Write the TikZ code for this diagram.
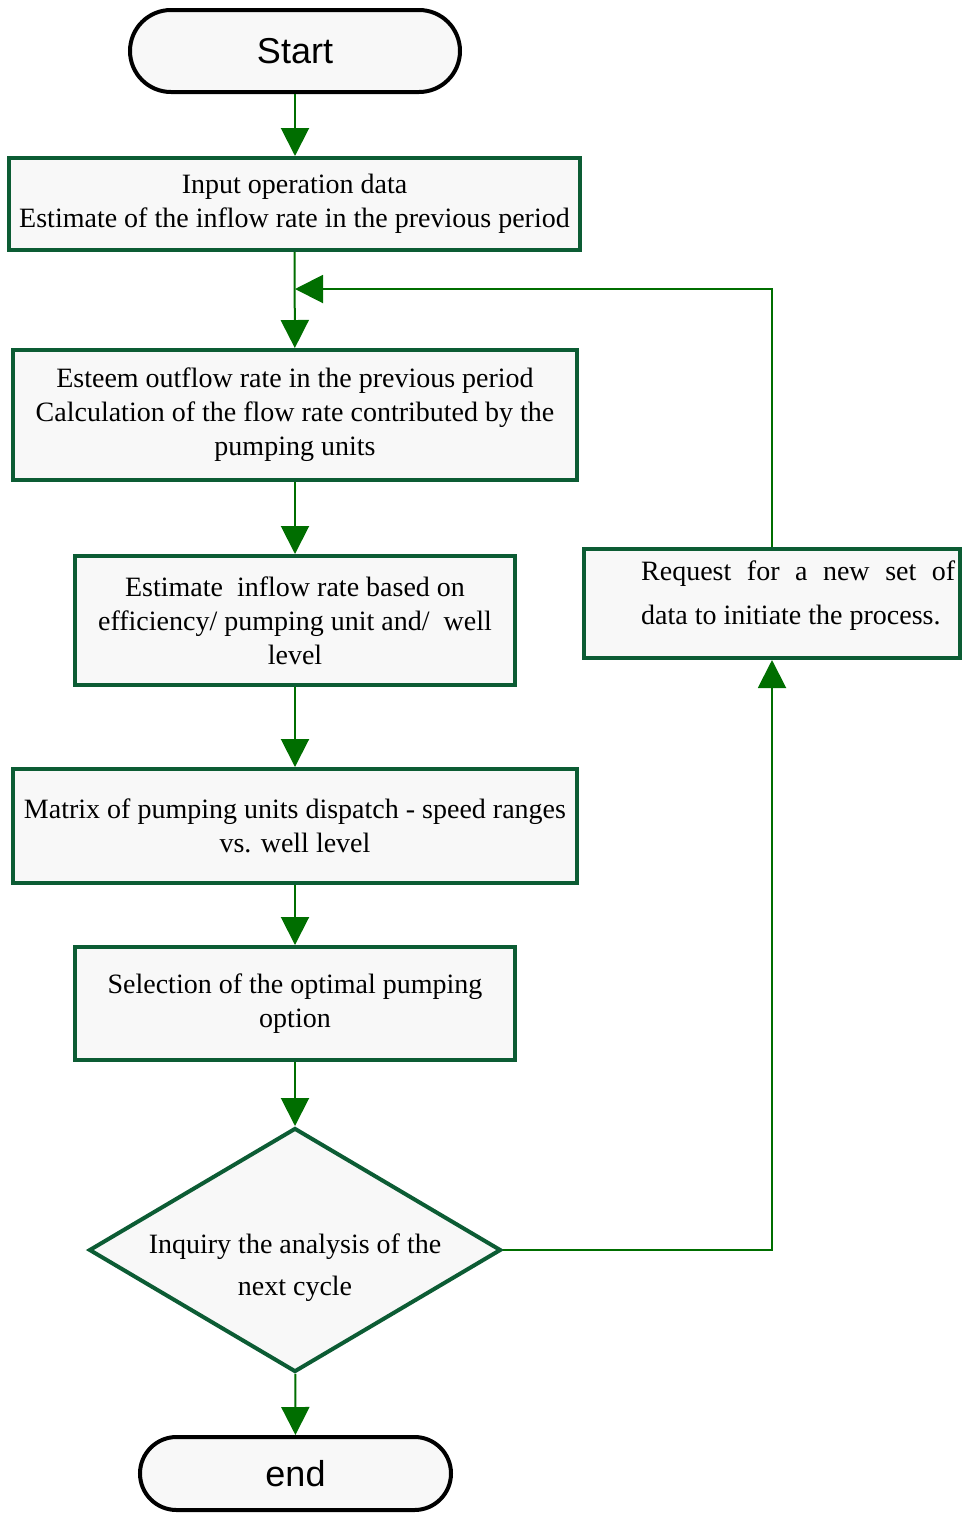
\documentclass[tikz,border=0pt]{standalone}
\usepackage{fontspec}
\setmainfont{Liberation Serif}
\newfontfamily\termfont{Liberation Sans}
\usetikzlibrary{shapes.geometric,shapes.misc,arrows.meta}
\definecolor{bord}{RGB}{12,92,52}
\definecolor{arr}{RGB}{0,110,0}
\definecolor{boxfill}{RGB}{248,248,248}
\begin{document}
\begin{tikzpicture}[x=1pt,y=-1pt,
  proc/.style={draw=bord,line width=4pt,fill=boxfill,rectangle,align=center,inner sep=0pt,font=\fontsize{28}{34}\selectfont},
  term/.style={draw=black,line width=4pt,fill=boxfill,rounded rectangle,inner sep=0pt,font=\termfont\fontsize{36}{40}\selectfont},
  dec/.style={draw=bord,line width=4pt,fill=boxfill,diamond,inner sep=0pt},
  conn/.style={draw=arr,line width=2pt,-{Triangle[width=28pt,length=28pt]},color=arr},
  txt/.style={inner sep=0pt,align=center}]
\useasboundingbox (0,0) rectangle (966,1516);

\node[term,minimum width=330pt,minimum height=82pt] (start) at (295,51) {Start};
\node[proc,minimum width=571pt,minimum height=92pt] (b1) at (294.5,204) {Input operation data\\Estimate of the inflow rate in the previous period};
\node[proc,minimum width=564pt,minimum height=130pt] (b2) at (295,415) {Esteem outflow rate in the previous period\\Calculation of the flow rate contributed by the\\pumping units};
\node[proc,minimum width=440pt,minimum height=129pt] (b3) at (295,620.5) {Estimate\ \ inflow rate based on\\efficiency/ pumping unit and/\ \ well\\level};
\node[proc,minimum width=564pt,minimum height=114pt] (b4) at (295,826) {Matrix of pumping units dispatch - speed ranges\\vs. well level};
\node[proc,minimum width=440pt,minimum height=113pt] (b5) at (295,1003.5) {Selection of the optimal pumping\\option};
\node[dec,minimum width=412pt,minimum height=244pt] (dia) at (295,1250) {};
\node[txt,font=\fontsize{28}{42}\selectfont] (diatext) at (295,1268) {Inquiry the analysis of the\\next cycle};
\node[term,minimum width=311pt,minimum height=73pt] (end) at (295.5,1473.5) {end};
\node[proc,minimum width=376pt,minimum height=109pt] (req) at (772,603.5) {};
\node[inner sep=0pt,anchor=west,font=\fontsize{28}{44}\selectfont] (reqtext) at (641,596) {\parbox{314pt}{\makebox[314pt][s]{Request for a new set of}\\data to initiate the process.}};
\coordinate (join) at (295,289);

\draw[conn] (start) -- (start |- b1.north);
\draw[conn] (b1) -- (b2);
\draw[conn] (b2) -- (b3);
\draw[conn] (b3) -- (b4);
\draw[conn] (b4) -- (b5);
\draw[conn] (b5) -- (dia);
\draw[conn] (dia) -- (end);
\draw[conn] (dia.east) -| (req.south);
\draw[conn] (req.north) |- (join);
\end{tikzpicture}
\end{document}
